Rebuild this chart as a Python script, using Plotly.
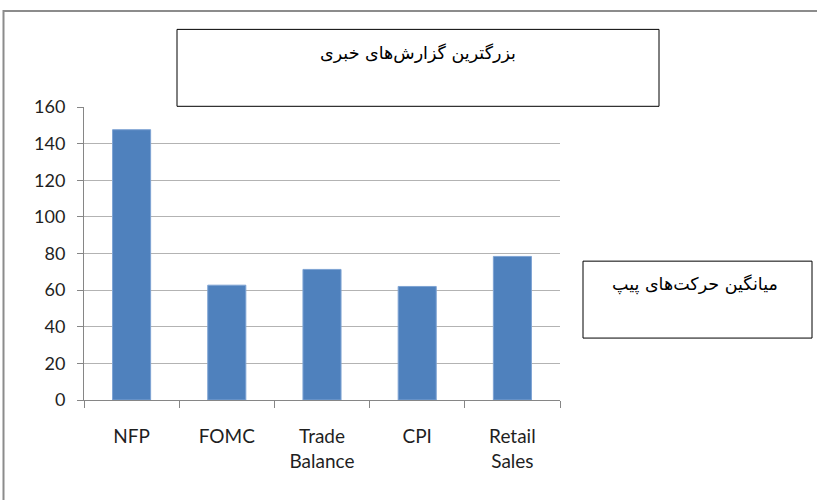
import plotly.graph_objects as go

# data
CATEGORIES = ["NFP", "FOMC", "Trade<br>Balance", "CPI", "Retail<br>Sales"]
PIP_MOVES = [147.6, 62.7, 71.3, 62.0, 78.4]
Y_TICKS = [0, 20, 40, 60, 80, 100, 120, 140, 160]

TITLE_TEXT = "بزرگترین گزارش‌های خبری"
LEGEND_TEXT = "میانگین حرکت‌های پیپ"

BAR_BLUE   = "#4f81bd"
BAR_EDGE   = "#7ea3d3"
GRID_GRAY  = "#b3b3b3"
AXIS_GRAY  = "#868686"
FRAME_GRAY = "#8c8c8c"
TEXT_DARK  = "#1f1f1f"
ARABIC_FONT = "DejaVu Sans, Arial, sans-serif"

W, H = 817, 500
# plot area in pixels
X0, X1 = 84, 560
Y_TOP, Y_BOT = 106.7, 400


def px_x(x):
    return (x - X0) / (X1 - X0)


def px_y(y):
    return (Y_BOT - y) / (Y_BOT - Y_TOP)


fig = go.Figure(go.Bar(
    x=CATEGORIES, y=PIP_MOVES,
    marker=dict(color=BAR_BLUE, line=dict(color=BAR_EDGE, width=1)),
    width=0.4,
))

# outer frame, title box and legend box
fig.add_shape(type="rect", xref="paper", yref="paper",
              x0=px_x(3.5), x1=px_x(830), y0=px_y(520), y1=px_y(10.5),
              line=dict(color=FRAME_GRAY, width=2), layer="below")
fig.add_shape(type="rect", xref="paper", yref="paper",
              x0=px_x(177), x1=px_x(659), y0=px_y(106), y1=px_y(29),
              line=dict(color="black", width=1), fillcolor="white")
fig.add_shape(type="rect", xref="paper", yref="paper",
              x0=px_x(583), x1=px_x(812), y0=px_y(338), y1=px_y(261),
              line=dict(color="black", width=1), fillcolor="white")

# RTL text gets anchored at its right end, so x is the right edge of the text
fig.add_annotation(text=TITLE_TEXT, xref="paper", yref="paper",
                   x=px_x(518), y=px_y(41), showarrow=False,
                   font=dict(family=ARABIC_FONT, size=17.5, color="black"))
fig.add_annotation(text=LEGEND_TEXT, xref="paper", yref="paper",
                   x=px_x(780), y=px_y(284), showarrow=False,
                   font=dict(family=ARABIC_FONT, size=17.5, color="black"))

fig.update_layout(
    width=W, height=H,
    paper_bgcolor="white", plot_bgcolor="white",
    margin=dict(l=X0, r=W - X1, t=Y_TOP, b=H - Y_BOT, pad=0),
    showlegend=False,
    font=dict(family="Lato, Open Sans, sans-serif", size=18, color=TEXT_DARK),
    xaxis=dict(
        showgrid=False, showline=True, linecolor=AXIS_GRAY, linewidth=1,
        ticks="outside", tickson="boundaries", ticklen=7, tickcolor=AXIS_GRAY,
        ticklabelstandoff=19, tickfont=dict(size=19), fixedrange=True,
    ),
    yaxis=dict(
        range=[0, 160], tickvals=Y_TICKS,
        showgrid=True, gridcolor=GRID_GRAY, gridwidth=1,
        showline=True, linecolor=AXIS_GRAY, linewidth=1,
        ticks="outside", ticklen=6, tickcolor=AXIS_GRAY,
        ticklabelstandoff=8, zeroline=False, fixedrange=True,
    ),
)

fig.write_html("out.html", config=dict(displayModeBar=False),
               post_script="document.body.style.margin='0';")
